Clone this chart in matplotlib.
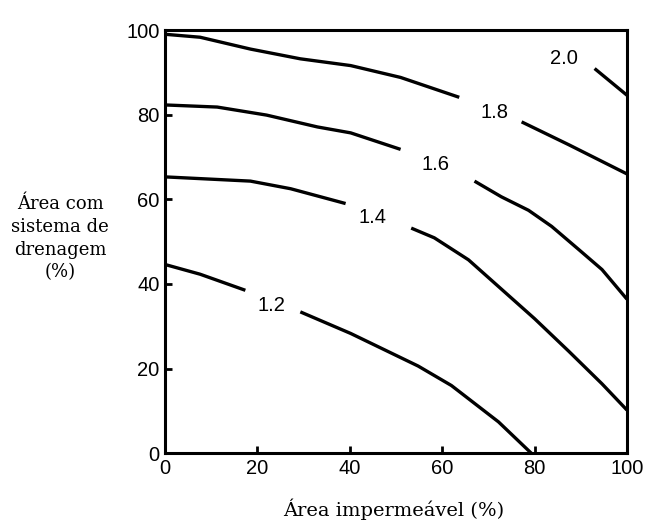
import numpy as np
import matplotlib
matplotlib.use("Agg")
import matplotlib.pyplot as plt

# Data: each iso-line is split into two segments (gap for its label)
levels = ["1.2", "1.4", "1.6", "1.8", "2.0"]

x12_a = [0, 7.6, 17.4]
y12_a = [44.6, 42.3, 38.5]
x12_b = [29.3, 40.2, 54.8, 62, 72.2, 79.3]
y12_b = [33.4, 28.3, 20.6, 16.0, 7.4, 0.0]

x14_a = [0, 18.5, 27.2, 39.1]
y14_a = [65.3, 64.3, 62.5, 59.0]
x14_b = [53.3, 58.3, 65.7, 72.8, 80, 87.4, 94.6, 100]
y14_b = [53.2, 50.9, 45.7, 38.8, 31.8, 24.1, 16.4, 10.2]

x16_a = [0, 11.3, 22, 33, 40.2, 51]
y16_a = [82.3, 81.8, 79.9, 77.1, 75.7, 71.8]
x16_b = [67, 72.8, 78.7, 83.7, 89.6, 94.6, 100]
y16_b = [64.3, 60.6, 57.4, 53.6, 48.1, 43.4, 36.4]

x18_a = [0, 7.6, 18.5, 29.3, 40.2, 51, 63.7]
y18_a = [99.0, 98.3, 95.5, 93.2, 91.6, 88.8, 84.1]
x18_b = [77.2, 87.4, 100]
y18_b = [78.3, 72.9, 66.0]

x20 = [93, 100]
y20 = [90.9, 84.6]

label_x = [23, 45, 58.5, 71.3, 86.3]
label_y = [35.0, 55.7, 68.3, 80.6, 93.2]

xticks = [0, 20, 40, 60, 80, 100]
yticks = [0, 20, 40, 60, 80, 100]

fig = plt.figure(figsize=(6.47, 5.27), dpi=100)
ax = fig.add_axes([0.255, 0.140, 0.714, 0.803])

segments = [(x12_a, y12_a), (x12_b, y12_b), (x14_a, y14_a), (x14_b, y14_b),
            (x16_a, y16_a), (x16_b, y16_b), (x18_a, y18_a), (x18_b, y18_b),
            (x20, y20)]
for xs, ys in segments:
    ax.plot(xs, ys, color="black", lw=2.4, solid_capstyle="butt",
            solid_joinstyle="round")

for lab, lx, ly in zip(levels, label_x, label_y):
    ax.text(lx, ly, lab, ha="center", va="center", fontsize=14.5,
            family=["Liberation Sans", "DejaVu Sans"])

ax.set_xlim(0, 100)
ax.set_ylim(0, 100)
ax.set_xticks(xticks)
ax.set_yticks(yticks)
ax.tick_params(direction="in", length=5, width=2, labelsize=14.5, pad=4)
for lbl in ax.get_xticklabels() + ax.get_yticklabels():
    lbl.set_family(["Liberation Sans", "DejaVu Sans"])
for sp in ax.spines.values():
    sp.set_linewidth(2.2)

fig.text(0.609, 0.034, "Área impermeável (%)", ha="center", va="center",
         fontsize=14, family=["DejaVu Serif"])
fig.text(0.093, 0.548, "Área com\nsistema de\ndrenagem\n(%)", ha="center",
         va="center", fontsize=13, linespacing=1.35,
         family=["DejaVu Serif"])

fig.savefig("out.png", dpi=100)
